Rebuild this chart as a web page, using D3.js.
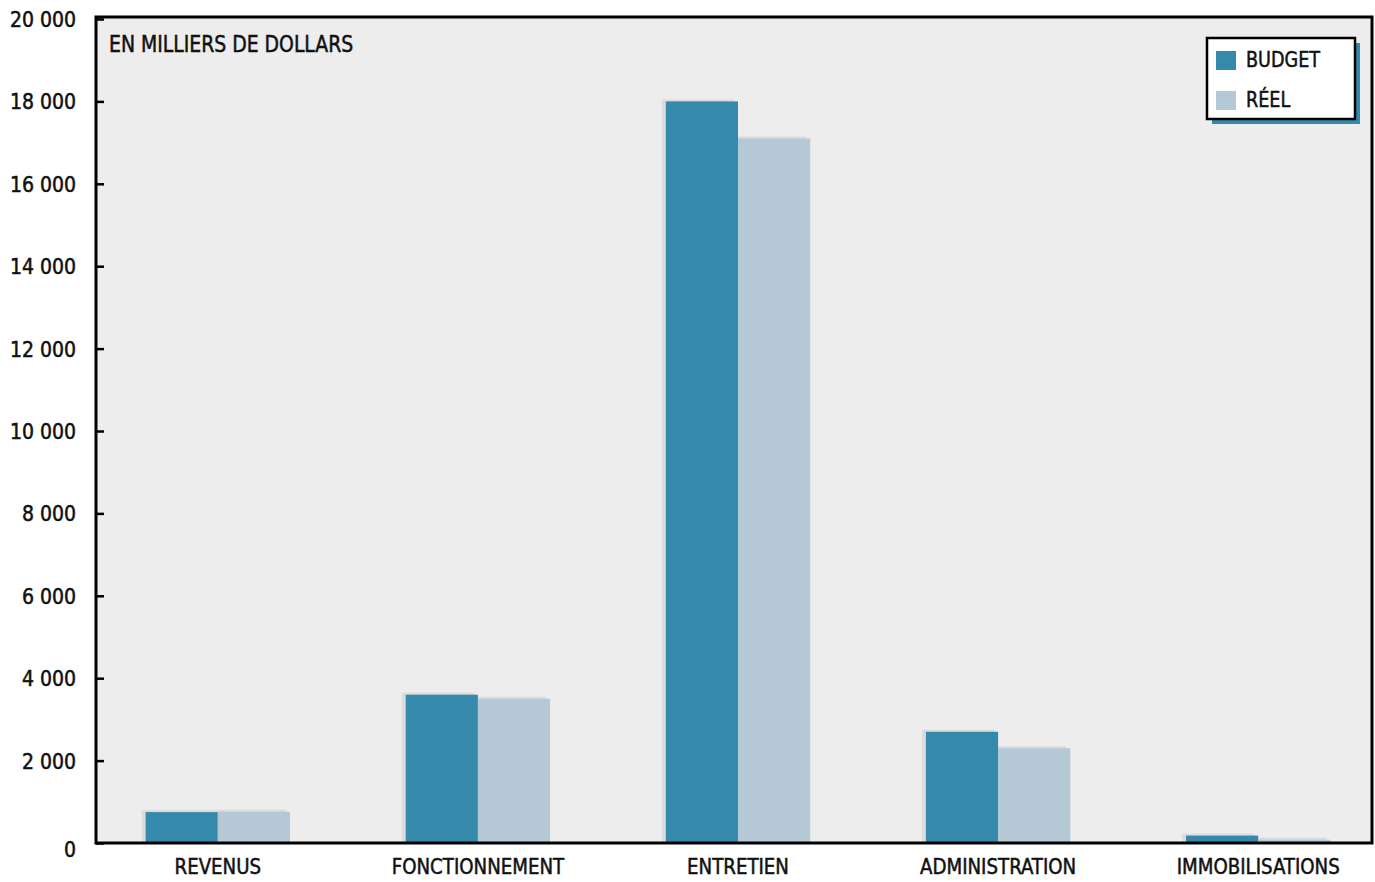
<!DOCTYPE html>
<html><head><meta charset="utf-8">
<script src="https://cdn.jsdelivr.net/npm/d3@7"></script>
<style>
body{margin:0;background:#fff;}
text{font-family:"DejaVu Sans Condensed","DejaVu Sans",sans-serif;font-weight:normal;fill:#111;stroke:#111;stroke-width:0.5px;}
</style></head>
<body><svg id="c" width="1375" height="882"></svg>
<script>
const categories = ["REVENUS","FONCTIONNEMENT","ENTRETIEN","ADMINISTRATION","IMMOBILISATIONS"];
const budget = [750, 3600, 18000, 2700, 180];
const reel = [760, 3500, 17100, 2300, 80];
const seriesNames = ["BUDGET","RÉEL"];
const yTicks = [0,2000,4000,6000,8000,10000,12000,14000,16000,18000,20000];
const unitLabel = "EN MILLIERS DE DOLLARS";

const colors = ["#3589ab","#b5c8d6"];
const svg = d3.select("#c");
const L=96, R=1372, T=17, B=843;

const y = d3.scaleLinear().domain([0,20000]).range([B,19]);
const x0 = d3.scaleBand().domain(categories).range([87.75,1388.25]).paddingInner(0.445).paddingOuter(0.2225);
const x1 = d3.scaleBand().domain(seriesNames).range([0,x0.bandwidth()]);

function condense(sel, f){
  sel.each(function(){
    const w = this.getComputedTextLength();
    d3.select(this).attr("textLength", w*f).attr("lengthAdjust","spacingAndGlyphs");
  });
}

svg.append("rect").attr("x",L).attr("y",T).attr("width",R-L).attr("height",B-T).attr("fill","#ededed");

const data = categories.map((c,i)=>({c, vals:[budget[i],reel[i]]}));
const g = svg.append("g");
data.forEach(d=>{
  d.vals.forEach((v,j)=>{
    const bx = x0(d.c)+x1(seriesNames[j]);
    g.append("rect").attr("x",bx-4).attr("y",y(v)-2).attr("width",x1.bandwidth()).attr("height",B-y(v)+2).attr("fill","#dcdcdc");
  });
  d.vals.forEach((v,j)=>{
    const bx = x0(d.c)+x1(seriesNames[j]);
    g.append("rect").attr("x",bx).attr("y",y(v)).attr("width",x1.bandwidth()).attr("height",B-y(v)).attr("fill",colors[j]);
  });
});

svg.append("rect").attr("x",L).attr("y",T).attr("width",R-L).attr("height",B-T).attr("fill","none").attr("stroke","#000").attr("stroke-width",3);

const yAxis = d3.axisRight(y).tickValues(yTicks).tickSize(8).tickFormat(d=>d3.format(",")(d).replace(/,/g," "));
const ya = svg.append("g").attr("transform",`translate(${L},0)`).call(yAxis);
ya.select(".domain").remove();
ya.selectAll(".tick line").attr("stroke","#000").attr("stroke-width",2.5);
ya.selectAll(".tick text").attr("x",-20).attr("text-anchor","end").attr("dy","0.36em")
  .style("font-size","21px").attr("fill","#111")
  .attr("transform",d=> d===0?"translate(0,6)":"translate(0,0)");

const xa = svg.append("g").attr("transform",`translate(0,${B})`).call(d3.axisBottom(x0).tickSize(0));
xa.select(".domain").remove();
const xt = xa.selectAll(".tick text").attr("y",31).attr("dy",null).style("font-size","21.5px").attr("fill","#111");
condense(xt, 0.94);

const ul = svg.append("text").attr("x",109).attr("y",52).text(unitLabel).style("font-size","23px");
condense(ul, 0.91);

const lg = svg.append("g").attr("transform","translate(1207,38)");
lg.append("rect").attr("x",5).attr("y",5).attr("width",148).attr("height",81).attr("fill","#3589ab");
lg.append("rect").attr("x",0).attr("y",0).attr("width",148).attr("height",81).attr("fill","#fff").attr("stroke","#000").attr("stroke-width",2.5);
seriesNames.forEach((s,i)=>{
  lg.append("rect").attr("x",9).attr("y",13+i*40).attr("width",20).attr("height",19).attr("fill",colors[i]);
  const t = lg.append("text").attr("x",39).attr("y",29+i*40).text(s).style("font-size","21.5px");
  condense(t, 0.91);
});
</script></body></html>
